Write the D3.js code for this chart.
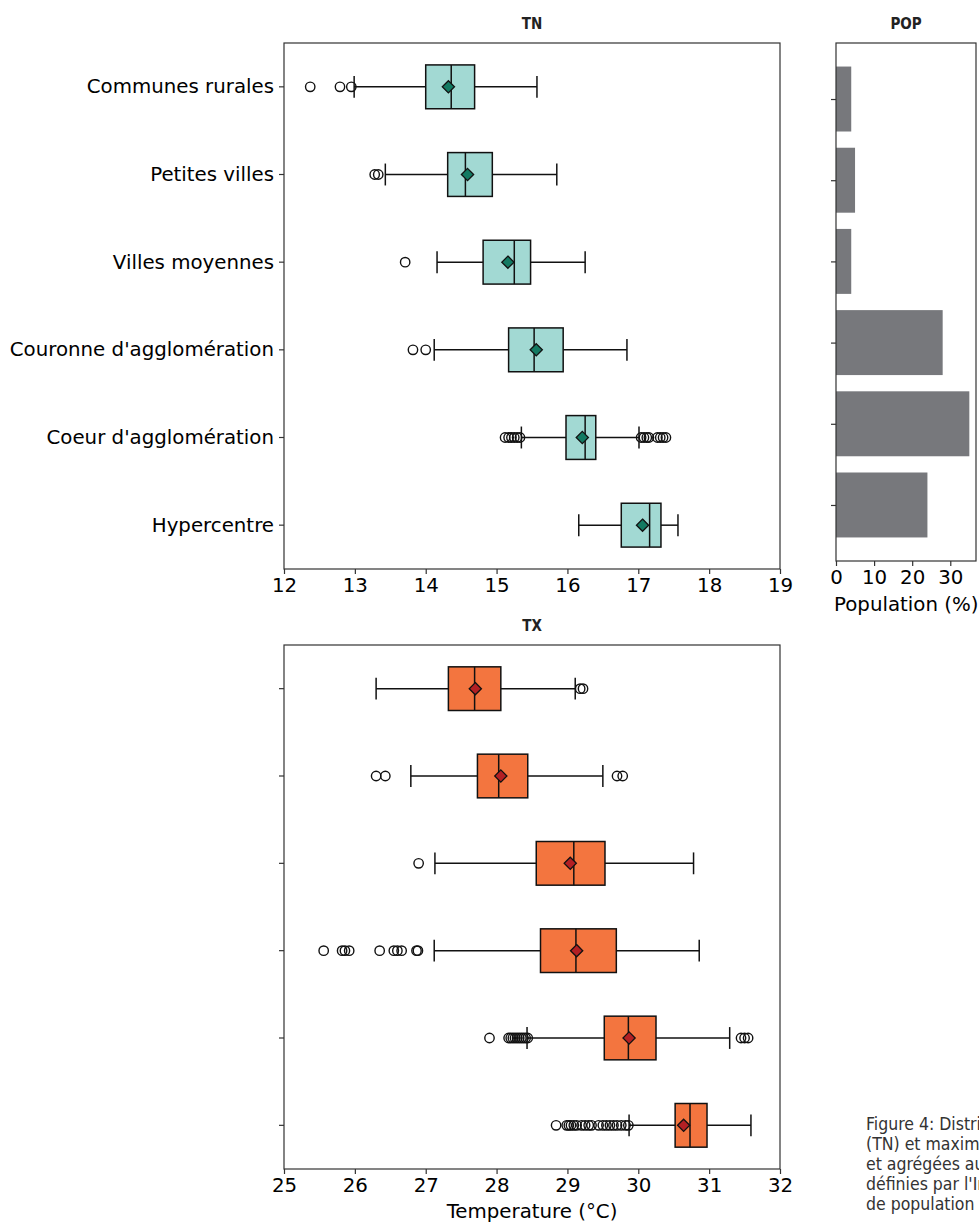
<!DOCTYPE html>
<html>
<head>
<meta charset="utf-8">
<script src="https://cdn.jsdelivr.net/npm/d3@7"></script>
<style>
  body { margin: 0; background: #fff; }
  svg { display: block; }
  .tick text { font-family: "DejaVu Sans", sans-serif; fill: #000; }
  .title { font-family: "DejaVu Sans Condensed", "Liberation Sans Narrow", "DejaVu Sans", sans-serif; font-stretch: condensed; font-weight: bold; fill: #222; }
  .caption { font-family: "DejaVu Sans Condensed", "Liberation Sans Narrow", "Noto Sans", sans-serif; font-stretch: condensed; fill: #333; }
</style>
</head>
<body>
<div id="chart"></div>
<script>
// categories (top to bottom)
const categories = ["Communes rurales", "Petites villes", "Villes moyennes",
  "Couronne d'agglomération", "Coeur d'agglomération", "Hypercentre"]

// population share (%)
const popValues = [4, 5, 4, 28, 35, 24]
const popTicks = [0, 10, 20, 30]

// TN (minimales)
const tnWhiskerLow = [12.99, 13.43, 14.16, 14.12, 15.35, 16.16]
const tnQ1 = [14.00, 14.31, 14.81, 15.17, 15.98, 16.76]
const tnMedian = [14.36, 14.56, 15.25, 15.53, 16.25, 17.16]
const tnQ3 = [14.69, 14.94, 15.48, 15.94, 16.40, 17.32]
const tnWhiskerHigh = [15.57, 15.85, 16.25, 16.84, 17.01, 17.56]
const tnMean = [14.32, 14.59, 15.16, 15.56, 16.21, 17.06]
const tnOutliers = [
  [12.37, 12.79, 12.95],
  [13.28, 13.33],
  [13.71],
  [13.82, 14.00],
  [15.12, 15.17, 15.21, 15.25, 15.29, 15.33, 17.04, 17.08, 17.12, 17.15, 17.27, 17.31, 17.35, 17.39],
  []
]
const tnTicks = [12, 13, 14, 15, 16, 17, 18, 19]

// TX (maximales)
const txWhiskerLow = [26.30, 26.79, 27.13, 27.12, 28.43, 29.87]
const txQ1 = [27.32, 27.73, 28.56, 28.62, 29.52, 30.52]
const txMedian = [27.69, 28.03, 29.09, 29.12, 29.86, 30.73]
const txQ3 = [28.06, 28.44, 29.53, 29.69, 30.25, 30.97]
const txWhiskerHigh = [29.11, 29.50, 30.78, 30.86, 31.29, 31.59]
const txMean = [27.70, 28.06, 29.04, 29.13, 29.87, 30.64]
const txOutliers = [
  [29.18, 29.22],
  [26.30, 26.43, 29.70, 29.78],
  [26.90],
  [25.56, 25.82, 25.86, 25.92, 26.35, 26.55, 26.60, 26.66, 26.87, 26.89],
  [27.90, 28.17, 28.20, 28.23, 28.26, 28.29, 28.32, 28.35, 28.38, 28.41, 28.44, 31.45, 31.50, 31.55],
  [28.84, 28.99, 29.02, 29.05, 29.09, 29.13, 29.20, 29.25, 29.30, 29.34, 29.44, 29.50,
   29.55, 29.60, 29.65, 29.70, 29.76, 29.82, 29.86]
]
const txTicks = [25, 26, 27, 28, 29, 30, 31, 32]

// caption, only the part visible before the page edge
const captionLines = [
  "Figure 4: Distri",
  "(TN) et maxim",
  "et agrégées au",
  "définies par l'In",
  "de population"
]

const width = 979
const height = 1223
const tickFont = "19.8px"

const svg = d3.select("#chart")
  .append("svg")
  .attr("width", width)
  .attr("height", height)

// boxplot panel
function boxPanel(opts) {
  const { top, bottom, domain, ticks, lo, q1, med, q3, hi, mean, outl, fill, meanFill, title, showLabels, xlabel } = opts
  const left = 284, right = 780

  const x = d3.scaleLinear().domain(domain).range([left, right])
  const y = d3.scaleBand().domain(categories).range([top, bottom])
  const bw = y.bandwidth()
  const cy = (i) => y(categories[i]) + bw / 2

  const g = svg.append("g")

  // axes
  const xAxis = d3.axisBottom(x).tickValues(ticks).tickSize(5).tickPadding(4).tickFormat(d3.format("d"))
  g.append("g")
    .attr("transform", `translate(0,${bottom})`)
    .call(xAxis)
    .call(a => a.select(".domain").remove())
    .call(a => a.selectAll("line").attr("stroke", "#333").attr("stroke-width", 1.2))
    .call(a => a.selectAll("text").style("font-size", tickFont))

  const yAxis = d3.axisLeft(y).tickSize(5).tickPadding(5)
    .tickFormat(d => showLabels ? d : "")
  g.append("g")
    .attr("transform", `translate(${left},0)`)
    .call(yAxis)
    .call(a => a.select(".domain").remove())
    .call(a => a.selectAll("line").attr("stroke", "#333").attr("stroke-width", 1.2))
    .call(a => a.selectAll("text").style("font-size", tickFont))

  const idx = d3.range(categories.length)

  // whiskers
  g.selectAll(".wl").data(idx).enter().append("line")
    .attr("x1", i => x(lo[i])).attr("x2", i => x(q1[i]))
    .attr("y1", cy).attr("y2", cy)
    .attr("stroke", "#111").attr("stroke-width", 1.5)
  g.selectAll(".wh").data(idx).enter().append("line")
    .attr("x1", i => x(q3[i])).attr("x2", i => x(hi[i]))
    .attr("y1", cy).attr("y2", cy)
    .attr("stroke", "#111").attr("stroke-width", 1.5)

  // caps
  const capH = bw * 0.25
  g.selectAll(".cl").data(idx).enter().append("line")
    .attr("x1", i => x(lo[i])).attr("x2", i => x(lo[i]))
    .attr("y1", i => cy(i) - capH / 2).attr("y2", i => cy(i) + capH / 2)
    .attr("stroke", "#111").attr("stroke-width", 1.5)
  g.selectAll(".ch").data(idx).enter().append("line")
    .attr("x1", i => x(hi[i])).attr("x2", i => x(hi[i]))
    .attr("y1", i => cy(i) - capH / 2).attr("y2", i => cy(i) + capH / 2)
    .attr("stroke", "#111").attr("stroke-width", 1.5)

  // boxes
  const boxH = bw * 0.5
  g.selectAll(".box").data(idx).enter().append("rect")
    .attr("x", i => x(q1[i]))
    .attr("width", i => x(q3[i]) - x(q1[i]))
    .attr("y", i => cy(i) - boxH / 2)
    .attr("height", boxH)
    .attr("fill", fill).attr("stroke", "#111").attr("stroke-width", 1.5)

  // medians
  g.selectAll(".med").data(idx).enter().append("line")
    .attr("x1", i => x(med[i])).attr("x2", i => x(med[i]))
    .attr("y1", i => cy(i) - boxH / 2).attr("y2", i => cy(i) + boxH / 2)
    .attr("stroke", "#111").attr("stroke-width", 1.5)

  // outliers
  const pts = []
  idx.forEach(i => outl[i].forEach(v => pts.push([i, v])))
  g.selectAll(".out").data(pts).enter().append("circle")
    .attr("cx", d => x(d[1])).attr("cy", d => cy(d[0]))
    .attr("r", 4.7)
    .attr("fill", "none").attr("stroke", "#111").attr("stroke-width", 1.4)

  // means (diamonds)
  const dia = d3.symbol().type(d3.symbolDiamond2).size(95)
  g.selectAll(".mean").data(idx).enter().append("path")
    .attr("d", dia)
    .attr("transform", i => `translate(${x(mean[i])},${cy(i)})`)
    .attr("fill", meanFill).attr("stroke", "#111").attr("stroke-width", 1.3)

  // frame
  g.append("rect")
    .attr("x", left).attr("y", top)
    .attr("width", right - left).attr("height", bottom - top)
    .attr("fill", "none").attr("stroke", "#333").attr("stroke-width", 1.2)

  // title
  g.append("text").attr("class", "title")
    .attr("x", (left + right) / 2).attr("y", top - 14)
    .attr("text-anchor", "middle").style("font-size", "15px")
    .text(title)

  if (xlabel) {
    g.append("text")
      .attr("x", (left + right) / 2).attr("y", bottom + 49)
      .attr("text-anchor", "middle")
      .style("font-family", "DejaVu Sans, sans-serif").style("font-size", tickFont)
      .text(xlabel)
  }
}

boxPanel({
  top: 43, bottom: 569, domain: [12, 19], ticks: tnTicks,
  lo: tnWhiskerLow, q1: tnQ1, med: tnMedian, q3: tnQ3, hi: tnWhiskerHigh, mean: tnMean, outl: tnOutliers,
  fill: "#a2d9d3", meanFill: "#137a62", title: "TN", showLabels: true, xlabel: null
})

boxPanel({
  top: 645, bottom: 1169, domain: [25, 32], ticks: txTicks,
  lo: txWhiskerLow, q1: txQ1, med: txMedian, q3: txQ3, hi: txWhiskerHigh, mean: txMean, outl: txOutliers,
  fill: "#f3753f", meanFill: "#b32024", title: "TX", showLabels: false, xlabel: "Temperature (°C)"
})

// POP panel
{
  const left = 836, right = 976, top = 43, bottom = 561
  const px = d3.scaleLinear().domain([0, d3.max(popValues) * 1.05]).range([left, right])
  const py = d3.scaleLinear().domain([-0.69, categories.length - 1 + 0.69]).range([top, bottom])
  const g = svg.append("g")

  g.selectAll(".bar").data(popValues).enter().append("rect")
    .attr("x", px(0))
    .attr("y", (d, i) => py(i - 0.4))
    .attr("width", d => px(d) - px(0))
    .attr("height", py(0.4) - py(-0.4))
    .attr("fill", "#77787c")

  g.append("g")
    .attr("transform", `translate(0,${bottom})`)
    .call(d3.axisBottom(px).tickValues(popTicks).tickSize(5).tickPadding(4))
    .call(a => a.select(".domain").remove())
    .call(a => a.selectAll("line").attr("stroke", "#333").attr("stroke-width", 1.2))
    .call(a => a.selectAll("text").style("font-size", tickFont))

  g.append("g")
    .attr("transform", `translate(${left},0)`)
    .call(d3.axisLeft(py).tickValues(d3.range(categories.length)).tickSize(5).tickFormat(""))
    .call(a => a.select(".domain").remove())
    .call(a => a.selectAll("line").attr("stroke", "#333").attr("stroke-width", 1.2))

  g.append("rect")
    .attr("x", left).attr("y", top)
    .attr("width", right - left).attr("height", bottom - top)
    .attr("fill", "none").attr("stroke", "#333").attr("stroke-width", 1.2)

  g.append("text").attr("class", "title")
    .attr("x", (left + right) / 2).attr("y", top - 14)
    .attr("text-anchor", "middle").style("font-size", "15px")
    .text("POP")

  g.append("text")
    .attr("x", 834).attr("y", bottom + 50)
    .style("font-family", "DejaVu Sans, sans-serif").style("font-size", tickFont)
    .text("Population (%)")
}

// caption
svg.append("g").selectAll("text").data(captionLines).enter().append("text")
  .attr("class", "caption")
  .attr("x", 866).attr("y", (d, i) => 1130 + i * 20)
  .style("font-size", "17.5px")
  .text(d => d)
</script>
</body>
</html>
